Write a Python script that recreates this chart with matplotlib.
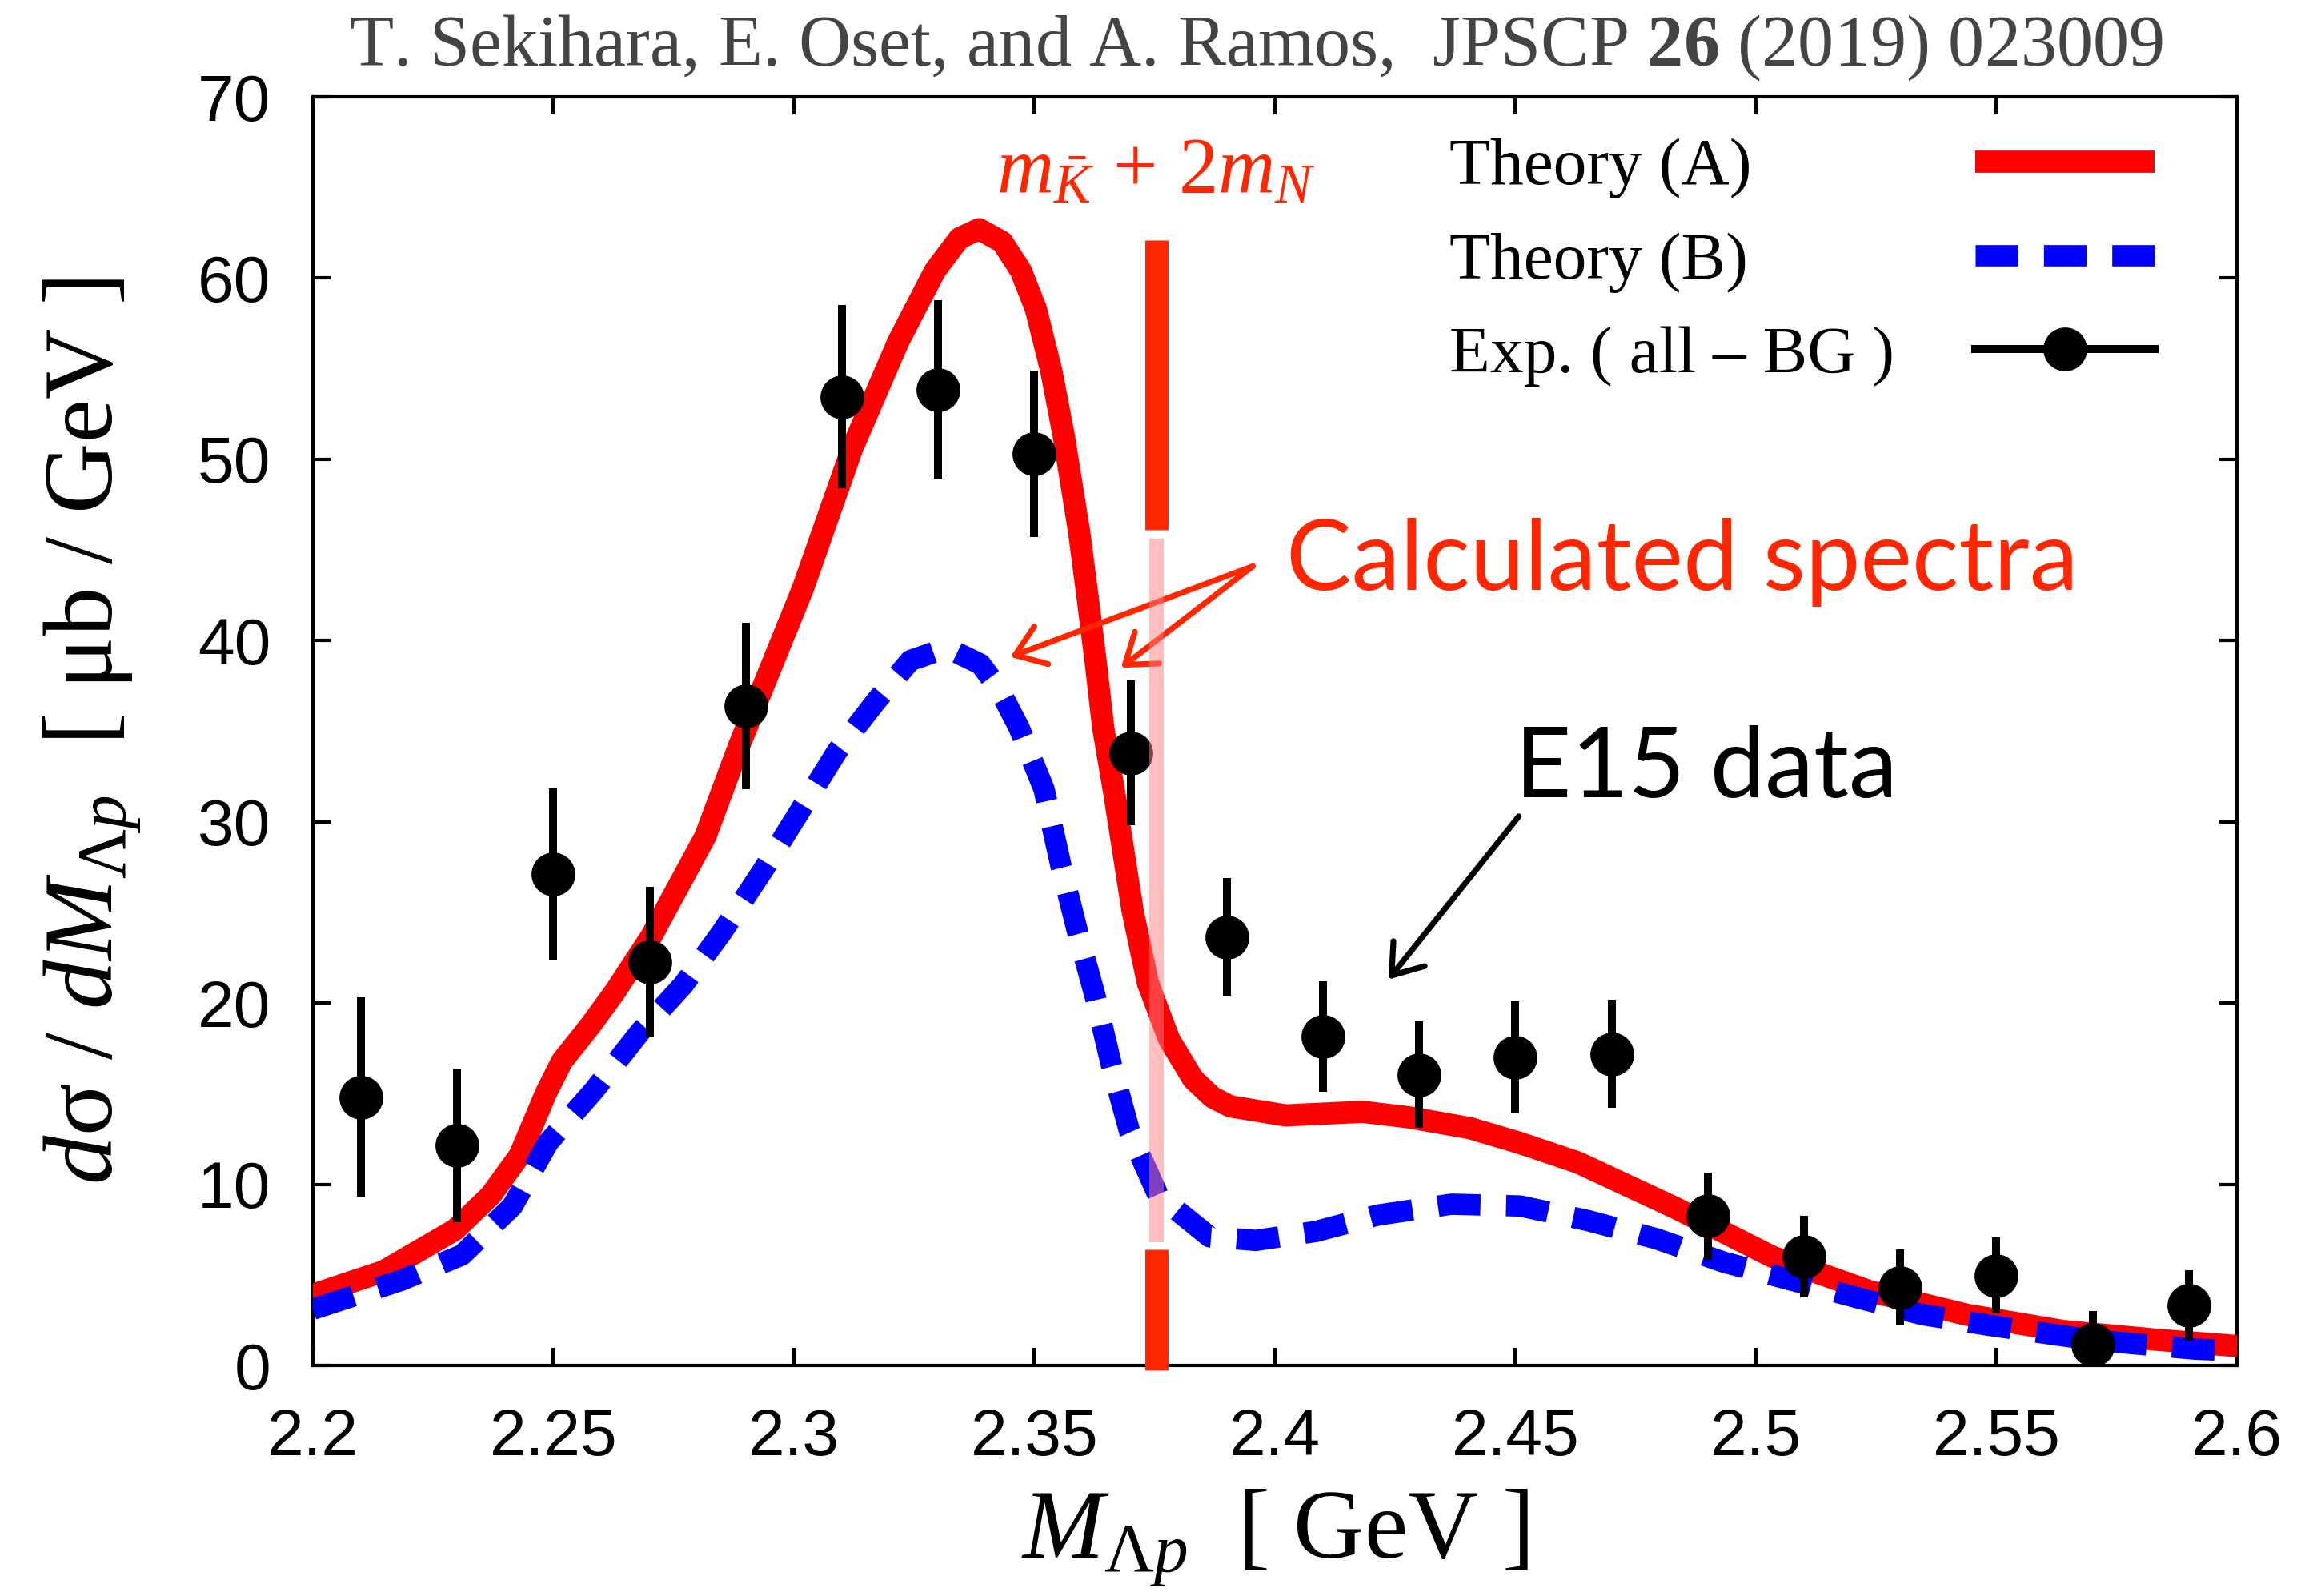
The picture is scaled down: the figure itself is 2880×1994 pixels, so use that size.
import matplotlib
matplotlib.use("Agg")
import matplotlib.pyplot as plt
from matplotlib.lines import Line2D
from matplotlib.patches import ArrowStyle

plt.rcParams['font.family'] = ['Liberation Sans', 'DejaVu Sans']
plt.rcParams['mathtext.fontset'] = 'custom'
plt.rcParams['mathtext.rm'] = 'Liberation Serif'
plt.rcParams['mathtext.it'] = 'Liberation Serif:italic'
plt.rcParams['mathtext.bf'] = 'Liberation Serif:bold'

# ---------------- data ----------------
exp_x = [2.21, 2.23, 2.25, 2.27, 2.29, 2.31, 2.33, 2.35, 2.37, 2.39,
         2.41, 2.43, 2.45, 2.47, 2.49, 2.51, 2.53, 2.55, 2.57, 2.59]
exp_y = [14.8, 12.15, 27.1, 22.25, 36.4, 53.45, 53.85, 50.3, 33.8, 23.65,
         18.15, 16.05, 17.0, 17.2, 8.25, 6.0, 4.3, 4.95, 1.15, 3.3]
exp_err = [5.5, 4.25, 4.75, 4.15, 4.6, 5.05, 4.95, 4.6, 4.0, 3.25,
           3.05, 2.95, 3.1, 3.0, 2.4, 2.25, 2.1, 2.1, 1.85, 1.95]

theoryA_x = [2.200, 2.2147, 2.2296, 2.237, 2.243, 2.2484, 2.2518, 2.2578, 2.263, 2.2704,
             2.2816, 2.2886, 2.3019, 2.3121, 2.3217, 2.3293, 2.3344, 2.3385, 2.3433, 2.3472,
             2.3503, 2.3535, 2.3561, 2.3593, 2.3612, 2.3628, 2.3643, 2.3666, 2.3704, 2.3736,
             2.378, 2.383, 2.387, 2.3907, 2.4022, 2.4182, 2.4277, 2.4405, 2.4507, 2.463,
             2.4832, 2.5034, 2.5236, 2.5438, 2.5639, 2.5841, 2.600]
theoryA_y = [3.9, 5.2, 7.5, 9.4, 11.6, 15.0, 16.8, 18.8, 20.7, 23.7,
             29.2, 34.2, 42.9, 50.6, 56.5, 60.4, 62.2, 62.7, 62.0, 60.4,
             58.3, 54.9, 51.3, 46.0, 42.1, 38.7, 35.2, 31.6, 25.1, 21.1,
             18.0, 15.8, 14.8, 14.3, 13.8, 14.0, 13.7, 13.1, 12.3, 11.2,
             8.7, 6.0, 4.1, 2.8, 1.9, 1.4, 1.07]

theoryB_x = [2.200, 2.2184, 2.231, 2.2415, 2.2489, 2.2585, 2.268, 2.277, 2.285, 2.2935,
             2.309, 2.3172, 2.3242, 2.3318, 2.3388, 2.3427, 2.3468, 2.352, 2.3555, 2.359,
             2.3628, 2.366, 2.3698, 2.3757, 2.3864, 2.396, 2.4086, 2.4214, 2.4367, 2.451,
             2.465, 2.4792, 2.4933, 2.5075, 2.5216, 2.5347, 2.5488, 2.570, 2.5912, 2.600]
theoryB_y = [3.1, 4.7, 6.1, 8.8, 12.3, 15.2, 18.4, 21.0, 23.9, 27.3,
             33.9, 36.7, 38.9, 39.6, 38.7, 37.3, 35.2, 31.8, 27.6, 23.9,
             20.2, 16.6, 12.9, 9.4, 7.1, 6.9, 7.4, 8.3, 8.9, 8.8,
             8.0, 7.0, 5.7, 4.7, 3.7, 2.8, 2.2, 1.4, 0.9, 0.8]

threshold_x = 2.3753
threshold_solid_top = [62.1, 46.1]
threshold_solid_bottom = [6.4, -0.25]
threshold_faint = [45.6, 6.8]

x_ticks = [2.2, 2.25, 2.3, 2.35, 2.4, 2.45, 2.5, 2.55, 2.6]
x_ticklabels = ['2.2', '2.25', '2.3', '2.35', '2.4', '2.45', '2.5', '2.55', '2.6']
y_ticks = [0, 10, 20, 30, 40, 50, 60, 70]
legend_labels = ['Theory (A)', 'Theory (B)', 'Exp. ( all \u2013 BG )']

title = r'T. Sekihara, E. Oset, and A. Ramos,  JPSCP $\mathbf{26}$ (2019) 023009'
xlabel = r'$M_{\mathrm{\Lambda}p}\ \ \mathrm{[\ GeV\ ]}$'
ylabel = (r'$d\mathrm{\sigma}\ /\ dM_{\mathrm{\Lambda}p}\ \ '
          r'\mathrm{[\ \mu b\ /\ GeV\ ]}$')

RED = '#ff0000'
BLUE = '#0000ff'
ORANGE = '#ff2600'
SERIF = 'Liberation Serif'

# ---------------- figure ----------------
fig = plt.figure(figsize=(14.4, 9.97), dpi=200)
ax = fig.add_axes([0.13576, 0.14443, 0.83472, 0.79488])
ax.set_xlim(2.2, 2.6)
ax.set_ylim(0, 70)

ax.plot(theoryA_x, theoryA_y, color=RED, lw=10, solid_joinstyle='round', zorder=3)
ax.plot(theoryB_x, theoryB_y, color=BLUE, lw=9.6, dashes=(2.0, 1.2), zorder=4)
ax.errorbar(exp_x, exp_y, yerr=exp_err, fmt='o', color='k', ms=18.7,
            elinewidth=3.6, capsize=0, zorder=6)

# threshold marker
ax.plot([threshold_x] * 2, threshold_solid_top, color=ORANGE, lw=10.4,
        solid_capstyle='butt', zorder=8, clip_on=False)
ax.plot([threshold_x] * 2, threshold_solid_bottom, color=ORANGE, lw=10.4,
        solid_capstyle='butt', zorder=8, clip_on=False)
ax.plot([threshold_x] * 2, threshold_faint, color=(1, 0.5, 0.5), alpha=0.5, lw=6.5,
        solid_capstyle='butt', zorder=7)
ax.text(threshold_x, 64.75, r'$m_{\bar{K}}\,+\,2m_N$', color=ORANGE, fontsize=35.5,
        ha='center', va='baseline')

# annotations
arr_style = ArrowStyle('->', head_length=12.6, head_width=9)
for tip in [(2.345, 39.1), (2.368, 38.5)]:
    ax.annotate('', xy=tip, xytext=(2.3954, 44.1),
                arrowprops=dict(arrowstyle=arr_style, mutation_scale=1, color=ORANGE,
                                lw=2.6, shrinkA=0, shrinkB=0), zorder=5)
ax.text(2.4024, 42.8, 'Calculated spectra', color=ORANGE, fontsize=44,
        fontfamily='Lato', va='baseline', ha='left')
ax.annotate('', xy=(2.4236, 21.3), xytext=(2.4507, 30.3),
            arrowprops=dict(arrowstyle=arr_style, mutation_scale=1, color='k',
                            lw=2.6, shrinkA=0, shrinkB=0), zorder=5)
ax.text(2.4499, 31.36, 'E15 data', color='k', fontsize=44,
        fontfamily='Lato', va='baseline', ha='left')

# axes styling
ax.set_xticks(x_ticks)
ax.set_xticklabels(x_ticklabels)
ax.set_yticks(y_ticks)
ax.tick_params(direction='in', length=8, width=1.5, labelsize=29.5, pad=19,
               top=True, right=True)
for sp in ax.spines.values():
    sp.set_linewidth(1.5)

ax.set_xlabel(xlabel, fontsize=44, fontfamily=SERIF)
ax.xaxis.set_label_coords(0.5, -0.096)
ax.set_ylabel(ylabel, fontsize=44, fontfamily=SERIF)
ax.yaxis.set_label_coords(-0.088, 0.5)

fig.text(0.5451, 1 - 82 / 1994, title, ha='center', va='baseline', fontsize=32.5,
         color='#444444', fontfamily=SERIF)

# manual legend (labels left-aligned, samples on the right)
leg_text_x = 0.5907
leg_text_base = [0.9312, 0.857, 0.783]
leg_line_y = [0.949, 0.875, 0.801]
leg_x = [0.864, 0.9105, 0.957]
for lbl, yb in zip(legend_labels, leg_text_base):
    ax.text(leg_text_x, yb, lbl, transform=ax.transAxes, fontsize=30,
            fontfamily=SERIF, va='baseline', ha='left', zorder=10)
ax.add_line(Line2D(leg_x, [leg_line_y[0]] * 3, transform=ax.transAxes, color=RED,
                   lw=10, solid_capstyle='butt', zorder=10))
ax.add_line(Line2D(leg_x, [leg_line_y[1]] * 3, transform=ax.transAxes, color=BLUE,
                   lw=9.6, dashes=(2.0, 1.2), zorder=10))
ax.add_line(Line2D(leg_x, [leg_line_y[2]] * 3, transform=ax.transAxes, color='k',
                   lw=3.6, marker='o', ms=18.7, markevery=[1], zorder=10))

fig.savefig('out.png', dpi=200)
